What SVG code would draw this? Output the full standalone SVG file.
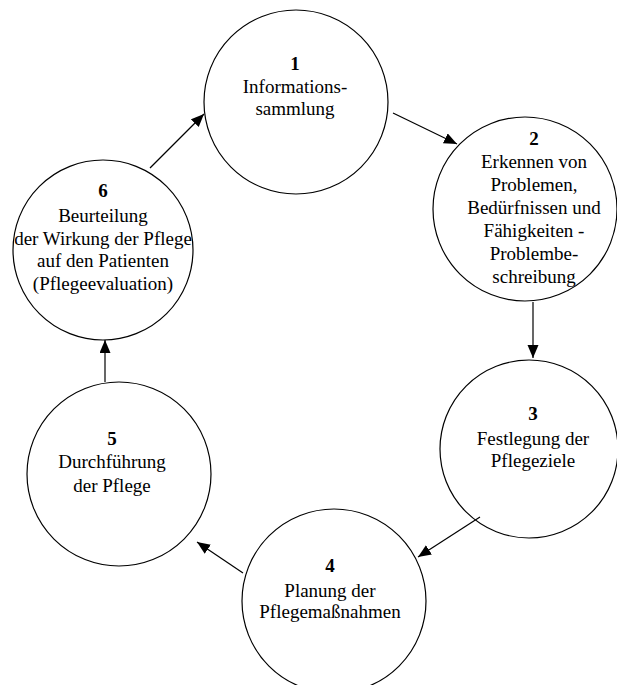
<svg xmlns="http://www.w3.org/2000/svg" width="617" height="685" viewBox="0 0 617 685">
<style>
.n{fill:#fff;stroke:#000;stroke-width:1.2}
.t{font-family:"Liberation Serif","Times New Roman",serif;font-size:19px;fill:#000;text-anchor:middle}
.b{font-weight:bold}
.c{stroke:#000;stroke-width:1.2;fill:none;marker-end:url(#ah)}
</style>
<defs>
<marker id="ah" markerUnits="userSpaceOnUse" markerWidth="14" markerHeight="12" refX="13" refY="5.5" orient="auto">
<path d="M0,0 L13,5.5 L0,11 z" fill="#000"/>
</marker>
</defs>
<rect width="617" height="685" fill="#fff"/>
<g id="n1">
<circle class="n" cx="296" cy="102" r="92"/>
<text class="t b" x="295" y="70">1</text>
<text class="t" x="295" y="93">Informations-</text>
<text class="t" x="295" y="115">sammlung</text>
</g>
<g id="n2">
<circle class="n" cx="525" cy="209" r="92"/>
<text class="t b" x="534" y="145">2</text>
<text class="t" x="534" y="168">Erkennen von</text>
<text class="t" x="534" y="191">Problemen,</text>
<text class="t" x="534" y="214">Bedürfnissen und</text>
<text class="t" x="534" y="237">Fähigkeiten -</text>
<text class="t" x="534" y="260">Problembe-</text>
<text class="t" x="534" y="283">schreibung</text>
</g>
<g id="n3">
<circle class="n" cx="529" cy="449" r="89"/>
<text class="t b" x="533" y="420">3</text>
<text class="t" x="533" y="445">Festlegung der</text>
<text class="t" x="533" y="467">Pflegeziele</text>
</g>
<g id="n4">
<circle class="n" cx="334" cy="601" r="92"/>
<text class="t b" x="330" y="572">4</text>
<text class="t" x="330" y="597">Planung der</text>
<text class="t" x="330" y="618">Pflegemaßnahmen</text>
</g>
<g id="n5">
<circle class="n" cx="119" cy="474" r="92"/>
<text class="t b" x="112" y="445">5</text>
<text class="t" x="112" y="468">Durchführung</text>
<text class="t" x="112" y="492">der Pflege</text>
</g>
<g id="n6">
<circle class="n" cx="103" cy="250" r="90"/>
<text class="t b" x="103" y="197">6</text>
<text class="t" x="103" y="222">Beurteilung</text>
<text class="t" x="103" y="245">der Wirkung der Pflege</text>
<text class="t" x="103" y="267">auf den Patienten</text>
<text class="t" x="103" y="290">(Pflegeevaluation)</text>
</g>
<g id="connectors">
<line class="c" x1="150" y1="168" x2="204" y2="114"/>
<line class="c" x1="393" y1="113" x2="457" y2="144"/>
<line class="c" x1="533" y1="302" x2="533" y2="358"/>
<line class="c" x1="480" y1="517" x2="418" y2="557"/>
<line class="c" x1="243" y1="573" x2="197" y2="542"/>
<line class="c" x1="105" y1="382" x2="105" y2="340"/>
</g>
</svg>
